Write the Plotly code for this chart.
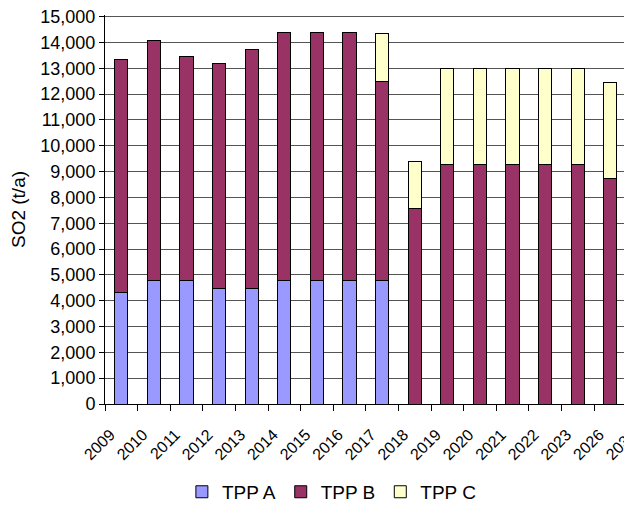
import plotly.graph_objects as go

years = ["2009", "2010", "2011", "2012", "2013", "2014", "2015", "2016", "2017",
         "2018", "2019", "2020", "2021", "2022", "2023", "2026", "2030"]
tpp_a = [4300, 4800, 4800, 4470, 4470, 4800, 4800, 4800, 4800,
         None, None, None, None, None, None, None, None]
tpp_b = [9050, 9260, 8650, 8710, 9260, 9580, 9580, 9580, 7700,
         7550, 9280, 9280, 9280, 9280, 9280, 8720, None]
tpp_c = [None, None, None, None, None, None, None, None, 1830,
         1850, 3720, 3720, 3720, 3720, 3720, 3710, None]

FONT = "Arial, Liberation Sans, sans-serif"
line = dict(color="#000000", width=1)

fig = go.Figure()
fig.add_trace(go.Bar(name="TPP A", x=years, y=tpp_a, marker=dict(color="#9999FF", line=line)))
fig.add_trace(go.Bar(name="TPP B", x=years, y=tpp_b, marker=dict(color="#993366", line=line)))
fig.add_trace(go.Bar(name="TPP C", x=years, y=tpp_c, marker=dict(color="#FFFFCC", line=line)))

# The chart area runs past the right edge of the view, as in the reference.
# A little head-room above 15,000 keeps its grid line from being dropped at the edge.
fig.update_layout(
    width=660, height=506,
    barmode="stack", bargap=0.6,
    plot_bgcolor="white", paper_bgcolor="white",
    margin=dict(l=97, r=0, t=7, b=110),
    font=dict(family=FONT, size=18, color="#000000"),
    showlegend=True,
    legend=dict(orientation="h", x=0.403, xanchor="center", y=-0.226, yanchor="middle",
                font=dict(family=FONT, size=19), itemwidth=30, traceorder="normal"),
    xaxis=dict(
        type="category", range=[-0.5, 16.77], tickangle=-45,
        showline=True, linecolor="#000000", linewidth=1,
        ticks="outside", tickson="boundaries", ticklen=6, tickcolor="#000000",
        showgrid=False, tickfont=dict(family=FONT, size=16),
        ticklabelstandoff=14, ticklabelshift=-11, automargin=False,
    ),
    yaxis=dict(
        range=[0, 15060], tickvals=list(range(0, 15001, 1000)), tickformat=",",
        showline=True, linecolor="#000000", linewidth=1,
        ticks="outside", ticklen=5, tickcolor="#000000",
        showgrid=True, gridcolor="#555555", gridwidth=1,
        zeroline=False, automargin=False, ticklabeloverflow="allow",
        title=dict(text="SO2 (t/a)", font=dict(family=FONT, size=19), standoff=10),
        tickfont=dict(family=FONT, size=18),
    ),
)

fig.write_html("out.html")
